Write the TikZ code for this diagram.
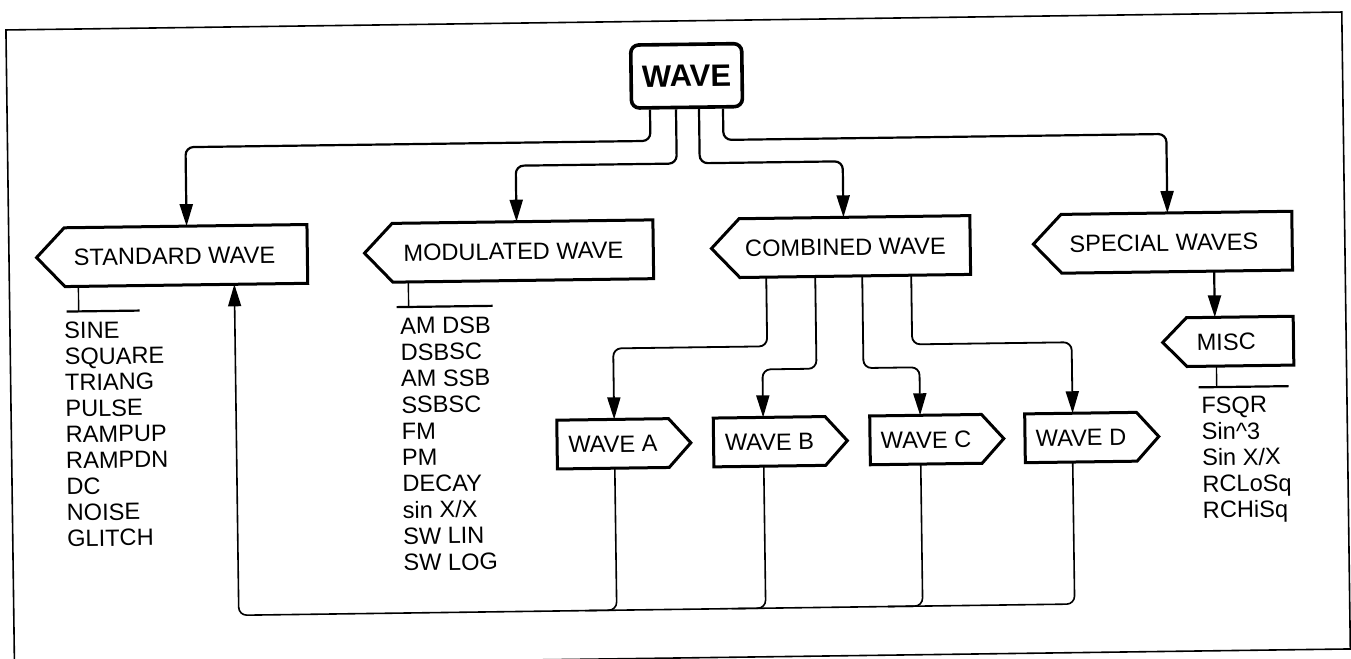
\documentclass[tikz,border=0pt]{standalone}
\usepackage{fontspec}
\setmainfont{Liberation Sans}
\usetikzlibrary{arrows.meta,calc}
\tikzset{
  lbl/.style={rectangle, inner sep=0pt, minimum height=29pt, font=\fontsize{11.8}{13}\selectfont, text height=8.5pt, text depth=0pt},
  wbox/.style={rectangle, inner sep=0pt, minimum width=55.5pt, minimum height=24pt, font=\fontsize{11.8}{13}\selectfont, text height=8.5pt, text depth=0pt},
  item/.style={anchor=west, inner sep=0pt, font=\fontsize{11.8}{13}\selectfont, text height=8.5pt, text depth=0pt},
  outline/.style={line width=1.5pt, line join=miter},
  tip/.style={-{Triangle[length=11pt,width=6.5pt]}},
  conn/.style={line width=1.1pt, rounded corners=4pt, tip},
  feed/.style={line width=0.8pt, rounded corners=4pt},
  tick/.style={line width=0.7pt},
  bar/.style={line width=1.1pt},
}
\begin{document}
\begin{tikzpicture}[x=0.5pt,y=-0.5pt]
\useasboundingbox (0,0) rectangle (1351,659);
\clip (0,0) rectangle (1351,659);
\begin{scope}[rotate around={0.77:(675,330)}, transform shape]
% frame
\draw[line width=0.8pt] (10,21) rectangle (1346,658);

% root
\node[draw, line width=1.8pt, rounded corners=4pt, minimum width=55.5pt, minimum height=31.5pt, inner sep=0pt, font=\bfseries\fontsize{15.5}{16}\selectfont] (wave) at (690,76) {WAVE};

% left-pointing boxes
\node[lbl, minimum width=121pt] (std) at (187,249) {STANDARD WAVE\hspace*{11.5pt}};
\node[lbl, minimum width=130pt] (mod) at (524,249) {MODULATED WAVE\hspace*{9.5pt}};
\node[lbl, minimum width=115pt] (comb) at (856,249) {COMBINED WAVE\hspace*{9.5pt}};
\node[lbl, minimum width=115pt] (spec) at (1178,249) {SPECIAL WAVES\hspace*{13pt}};
\node[lbl, minimum width=53pt, minimum height=24pt] (misc) at (1240,349) {MISC\hspace*{14pt}};
\foreach \n/\d in {std/28,mod/28,comb/28,spec/28,misc/24}
  \draw[outline] (\n.north east) -- (\n.north west) -- ($(\n.west)+(-\d,0)$) -- (\n.south west) -- (\n.south east) -- cycle;

% right-pointing boxes
\node[wbox] (wa) at (611.5,443) {WAVE A};
\node[wbox] (wb) at (768,443) {WAVE B};
\node[wbox] (wc) at (924.5,443) {WAVE C};
\node[wbox] (wd) at (1079.5,443) {WAVE D};
\foreach \n in {wa,wb,wc,wd}
  \draw[outline] (\n.north west) -- (\n.north east) -- ($(\n.east)+(22,0)$) -- (\n.south east) -- (\n.south west) -- cycle;

% connectors from WAVE
\draw[conn] ($(wave.south)+(-37,0)$) |- ($(std.north)+(1,-79)$) -- ($(std.north)+(1,0)$);
\draw[conn] ($(wave.south)+(-11,0)$) |- ($(mod.north)+(-6,-56)$) -- ($(mod.north)+(-6,0)$);
\draw[conn] ($(wave.south)+(12,0)$) |- ($(comb.north)+(-11,-56)$) -- ($(comb.north)+(-11,0)$);
\draw[conn] ($(wave.south)+(36,0)$) |- ($(spec.north)+(-9,-79)$) -- ($(spec.north)+(-9,0)$);

% connectors from COMBINED WAVE
\draw[conn, line width=0.9pt] ($(comb.south)+(-89,0)$) |- ($(wa.north)+(1.5,-71)$) -- ($(wa.north)+(1.5,0)$);
\draw[conn, line width=0.9pt] ($(comb.south)+(-40,0)$) |- ($(wb.north)+(-6,-48)$) -- ($(wb.north)+(-6,0)$);
\draw[conn, line width=0.9pt] ($(comb.south)+(7,0)$) |- ($(wc.north)+(-5.5,-48)$) -- ($(wc.north)+(-5.5,0)$);
\draw[conn, line width=0.9pt] ($(comb.south)+(56,0)$) |- ($(wd.north)+(-8,-71)$) -- ($(wd.north)+(-8,0)$);

% SPECIAL -> MISC
\draw[conn] ($(spec.south)+(37,0)$) -- ($(misc.north)+(-25,0)$);

% feedback bus
\draw[feed, tip] ($(wd.south)+(-8.5,0)$) |- ($(std.south)+(48,331)$) -- ($(std.south)+(48,0)$);
\draw[feed] ($(wa.south)+(1.5,0)$) |- ($(wa.south)+(-30,142)$);
\draw[feed] ($(wb.south)+(-6,0)$) |- ($(wb.south)+(-40,142)$);
\draw[feed] ($(wc.south)+(-5.5,0)$) |- ($(wc.south)+(-40,142)$);

% ticks
\draw[tick] ($(std.south)+(-108,0)$) -- ($(std.south)+(-108,25)$);
\draw[bar] ($(std.south)+(-120,25)$) -- ($(std.south)+(-47,25)$);
\draw[tick] ($(mod.south)+(-115,0)$) -- ($(mod.south)+(-115,25)$);
\draw[bar] ($(mod.south)+(-127,25)$) -- ($(mod.south)+(-31,25)$);
\draw[tick] ($(misc.south)+(-24,0)$) -- ($(misc.south)+(-24,21)$);
\draw[bar] ($(misc.south)+(-42,21)$) -- ($(misc.south)+(48,21)$);

% lists
\foreach \t [count=\i from 0] in {SINE,SQUARE,TRIANG,PULSE,RAMPUP,RAMPDN,DC,NOISE,GLITCH}
  \node[item] (s\i) at (64,{322+26*\i}) {\t};
\foreach \t [count=\i from 0] in {AM DSB,DSBSC,AM SSB,SSBSC,FM,PM,DECAY,sin X/X,SW LIN,SW LOG}
  \node[item] (m\i) at (400,{322+26.3*\i}) {\t};
\foreach \t [count=\i from 0] in {FSQR,Sin\textasciicircum 3,Sin X/X,RCLoSq,RCHiSq}
  \node[item] (x\i) at (1200,{412+26.2*\i}) {\t};
\end{scope}
\end{tikzpicture}
\end{document}
